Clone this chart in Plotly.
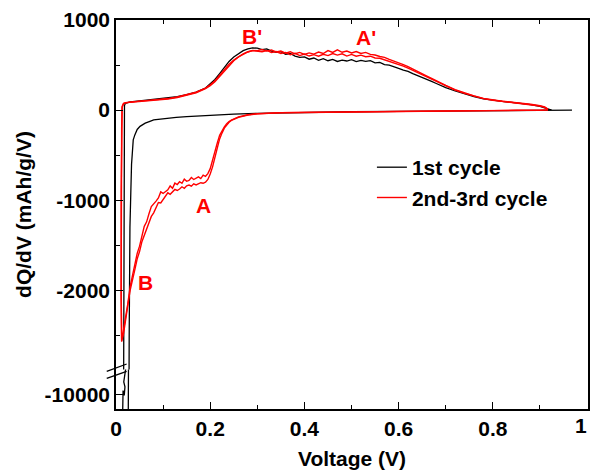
import plotly.graph_objects as go

# ---------------- data ----------------
# 1st cycle (black): discharge from OCV then charge
c1_dis_v = [0.968, 0.90, 0.80, 0.70, 0.60, 0.50, 0.40, 0.35, 0.30, 0.25, 0.20, 0.17, 0.15,
            0.128, 0.11, 0.093, 0.08, 0.072, 0.062, 0.051, 0.045, 0.04, 0.0366, 0.0345, 0.033,
            0.0315, 0.0296, 0.028, 0.027, 0.026, 0.022, 0.018, 0.014]
c1_dis_q = [0, -4, -7, -10, -14, -18, -24, -28, -36, -45, -55, -66, -72,
            -80, -88, -96, -108, -125, -145, -180, -215, -275, -330, -490, -600,
            -900, -1300, -2500, -5000, -11000, -11600, -11400, -10900]
c1_chg_v = [0.0135, 0.015, 0.0175, 0.019, 0.0165, 0.0162, 0.0165, 0.017, 0.018, 0.02, 0.025,
            0.03, 0.05, 0.07, 0.09, 0.11, 0.13, 0.15, 0.17, 0.19, 0.20, 0.21, 0.22, 0.23,
            0.24, 0.25, 0.26, 0.27, 0.28, 0.29,
            0.30, 0.31, 0.32, 0.33, 0.34, 0.35, 0.36, 0.37, 0.38, 0.39, 0.40, 0.41, 0.42,
            0.43, 0.44, 0.45, 0.46, 0.47, 0.48, 0.49, 0.50, 0.51, 0.52, 0.53, 0.54, 0.55,
            0.56, 0.57, 0.58, 0.59, 0.60, 0.61, 0.62, 0.63, 0.64, 0.65, 0.66, 0.67, 0.68,
            0.69, 0.70, 0.72, 0.74, 0.76, 0.78, 0.80, 0.82, 0.84, 0.86, 0.88, 0.90, 0.91,
            0.92, 0.925]
c1_chg_q = [-10000, -9850, -10050, -9700, -9500, -3000, -600, 0, 50, 75, 85,
            92, 102, 112, 122, 134, 150, 172, 200, 245, 290, 340, 405, 475,
            540, 590, 630, 660, 680, 690,
            688, 672, 680, 655, 640, 648, 620, 628, 600, 585, 590, 565, 578,
            552, 570, 548, 562, 540, 555, 545, 560, 538, 552, 540, 548, 525,
            530, 505, 500, 478, 462, 445, 430, 405, 385, 360, 340, 318, 295,
            272, 250, 212, 180, 150, 125, 108, 96, 85, 75, 62, 42, 28,
            12, 0]

# 2nd and 3rd cycles (red): shared voltage grids
dis_v = [0.917, 0.90, 0.85, 0.80, 0.70, 0.60, 0.50, 0.40, 0.35, 0.30, 0.28, 0.26, 0.25,
         0.245, 0.24, 0.235, 0.23, 0.225, 0.22, 0.215, 0.21, 0.205, 0.20, 0.195, 0.19,
         0.185, 0.18, 0.175, 0.17, 0.165, 0.16, 0.155, 0.15, 0.145, 0.14, 0.135, 0.13,
         0.125, 0.12, 0.115, 0.11, 0.105, 0.10, 0.095, 0.09, 0.085, 0.08, 0.075, 0.07,
         0.065, 0.06, 0.055, 0.05, 0.045, 0.04, 0.035, 0.03, 0.025, 0.02, 0.016, 0.012]
c2_dis_q = [5, 0, -2, -4, -8, -12, -16, -22, -28, -40, -52, -75, -95,
            -110, -128, -150, -185, -228, -280, -365, -465, -565, -650, -705, -735,
            -722, -760, -741, -752, -770, -748, -781, -790, -766, -812, -795, -826,
            -810, -868, -842, -885, -901, -925, -908, -975, -1010, -1045, -1070, -1150,
            -1240, -1290, -1410, -1510, -1590, -1720, -1840, -1960, -2150, -2330, -2470, -2570]
c3_dis_q = [0, -2, -4, -6, -10, -14, -18, -24, -30, -42, -55, -80, -100,
            -115, -135, -162, -200, -255, -320, -420, -530, -630, -710, -770, -800,
            -812, -806, -822, -830, -818, -845, -832, -840, -868, -851, -876, -892,
            -880, -912, -935, -918, -960, -995, -1030, -1025, -1090, -1140, -1180, -1250,
            -1320, -1390, -1460, -1570, -1650, -1770, -1880, -2000, -2170, -2350, -2480, -2560]
chg_v = [0.011, 0.011, 0.012, 0.013, 0.016, 0.02, 0.03, 0.05, 0.07, 0.09, 0.11, 0.13,
         0.15, 0.17, 0.19, 0.20, 0.21, 0.22, 0.23, 0.24, 0.25, 0.26, 0.27, 0.28, 0.29,
         0.30, 0.31, 0.32, 0.33, 0.34, 0.35, 0.36, 0.37, 0.38, 0.39, 0.40, 0.41, 0.42,
         0.43, 0.44, 0.45, 0.46, 0.47, 0.48, 0.49, 0.50, 0.51, 0.52, 0.53, 0.54, 0.55,
         0.56, 0.57, 0.58, 0.59, 0.60, 0.61, 0.62, 0.63, 0.64, 0.65, 0.66, 0.67, 0.68,
         0.69, 0.70, 0.72, 0.74, 0.76, 0.78, 0.80, 0.82, 0.84, 0.86, 0.88, 0.90, 0.91, 0.917]
c2_chg_q = [-2000, -1000, -200, 40, 75, 82, 90, 100, 108, 115, 128, 145,
            168, 198, 245, 280, 325, 385, 450, 510, 555, 595, 625, 648, 662,
            660, 672, 655, 668, 645, 655, 632, 648, 625, 640, 618, 635, 622,
            645, 628, 660, 640, 668, 642, 655, 635, 650, 628, 640, 618, 612,
            595, 585, 562, 545, 522, 505, 482, 458, 430, 402, 378, 352, 325,
            300, 275, 228, 190, 158, 130, 112, 98, 88, 78, 65, 48, 35, 10]
c3_chg_q = [-2100, -900, -150, 30, 70, 80, 88, 97, 105, 112, 124, 140,
            162, 192, 238, 272, 316, 375, 440, 500, 548, 590, 620, 645, 660,
            655, 648, 662, 640, 650, 628, 640, 615, 630, 605, 622, 600, 615,
            598, 620, 605, 628, 610, 625, 600, 618, 598, 610, 592, 598, 578,
            575, 558, 545, 525, 505, 488, 465, 440, 415, 390, 365, 340, 315,
            292, 268, 222, 185, 155, 128, 110, 97, 86, 76, 62, 45, 30, 5]

x_ticks = [0, 0.2, 0.4, 0.6, 0.8, 1.0]
x_ticklabels = ["0", "0.2", "0.4", "0.6", "0.8", ""]
x_edge_label = ("1", 1.0)   # last x label, drawn as text so it stays inside the page
y_ticks_upper = [-2000, -1000, 0, 1000]
y_ticks_lower = [-10000]

labels = [("B'", 0.289, 814), ("A'", 0.53, 803), ("A", 0.186, -1055), ("B", 0.063, -1918)]

# ---------------- figure ----------------
FONT = "Liberation Sans, Arial, sans-serif"
RED = "#ff0000"
FS = 21

series = [
    ("1st cycle", c1_dis_v + c1_chg_v, c1_dis_q + c1_chg_q, "black", 1.3, True, "c1"),
    ("2nd-3rd cycle", dis_v + chg_v, c2_dis_q + c2_chg_q, RED, 1.4, True, "c23"),
    ("2nd-3rd cycle", dis_v + chg_v, c3_dis_q + c3_chg_q, RED, 1.4, False, "c23"),
]

fig = go.Figure()
for name, xv, yv, col, w, show, grp in series:
    # upper (linear) panel
    fig.add_trace(go.Scatter(x=xv, y=yv, mode="lines", name=name, legendgroup=grp,
                             showlegend=show, line=dict(color=col, width=w),
                             xaxis="x2", yaxis="y"))
    # lower (broken) panel
    fig.add_trace(go.Scatter(x=xv, y=yv, mode="lines", name=name, legendgroup=grp,
                             showlegend=False, line=dict(color=col, width=w),
                             xaxis="x", yaxis="y2"))

L, R, T, B = 116, 3, 20, 55
W, H = 593, 470
pw, ph = W - L - R, H - T - B
low_frac = 40 / ph

tickfont = dict(family=FONT, size=FS, color="black", weight="bold")
common_x = dict(range=[0, 1.002], showgrid=False, zeroline=False, showline=True,
                linecolor="black", linewidth=1.6, ticks="inside", ticklen=7,
                tickwidth=1.3, tickcolor="black", tickvals=x_ticks,
                minor=dict(ticks="inside", ticklen=4, tickwidth=1.3, tickcolor="black",
                           tickvals=[0.1, 0.3, 0.5, 0.7, 0.9]))

fig.update_layout(
    width=W, height=H,
    margin=dict(l=L, r=R, t=T, b=B),
    paper_bgcolor="white", plot_bgcolor="white",
    showlegend=True,
    legend=dict(x=(373 - L) / pw, y=(H - B - 149) / ph, xref="paper", yref="paper",
                xanchor="left", yanchor="top", bgcolor="rgba(0,0,0,0)",
                font=dict(family=FONT, size=FS, color="black", weight="bold"),
                tracegroupgap=0, itemwidth=30),
    xaxis=dict(**common_x, anchor="y2", side="bottom", ticktext=x_ticklabels,
               tickfont=tickfont, ticklabeloverflow="allow",
               title=dict(text="Voltage (V)", font=dict(family=FONT, size=FS, color="black", weight="bold"),
                          standoff=12)),
    xaxis2=dict(**common_x, anchor="y", side="top", matches="x", showticklabels=False),
    yaxis=dict(domain=[low_frac, 1], range=[-2880, 1000], anchor="x2",
               showgrid=False, zeroline=False, showline=True, mirror=True,
               linecolor="black", linewidth=1.6, ticks="inside", ticklen=7,
               tickwidth=1.3, tickcolor="black", tickvals=y_ticks_upper,
               ticktext=[str(v) for v in y_ticks_upper], tickfont=tickfont,
               ticklabeloverflow="allow",
               minor=dict(ticks="inside", ticklen=4, tickwidth=1.3, tickcolor="black",
                          tickvals=[-2500, -1500, -500, 500])),
    yaxis2=dict(domain=[0, low_frac], range=[-10600, -9000], anchor="x",
                showgrid=False, zeroline=False, showline=True, mirror=True,
                linecolor="black", linewidth=1.6, ticks="inside", ticklen=7,
                tickwidth=1.3, tickcolor="black", tickvals=y_ticks_lower,
                ticktext=[str(v) for v in y_ticks_lower], tickfont=tickfont,
                ticklabeloverflow="allow"),
)

for txt, xv, yv in labels:
    fig.add_annotation(x=xv, y=yv, xref="x2", yref="y", text=txt, showarrow=False,
                       font=dict(family=FONT, size=FS, color=RED, weight="bold"))

# last x tick label at the right edge, kept just inside the page
fig.add_annotation(x=x_edge_label[1], y=0, xref="x", yref="paper", text=x_edge_label[0],
                   showarrow=False, xanchor="right", xshift=2, yanchor="top", yshift=-3,
                   font=dict(family=FONT, size=FS, color="black", weight="bold"))

# y-axis title spanning both panels
fig.add_annotation(x=-93 / pw, y=0.5, xref="paper", yref="paper", text="dQ/dV (mAh/g/V)",
                   textangle=-90, showarrow=False, xanchor="center", yanchor="middle",
                   font=dict(family=FONT, size=FS, color="black", weight="bold"))

# axis-break marks (double slash)
def px(xp, yp):
    return (xp - L) / pw, (H - B - yp) / ph

for (x0p, y0p, x1p, y1p) in [(106.7, 376.7, 126.7, 369.3), (106.7, 384.0, 126.7, 376.7)]:
    a0, b0 = px(x0p, y0p)
    a1, b1 = px(x1p, y1p)
    fig.add_shape(type="line", xref="paper", yref="paper", x0=a0, y0=b0, x1=a1, y1=b1,
                  line=dict(color="black", width=1.3))

fig.write_html("out.html")
